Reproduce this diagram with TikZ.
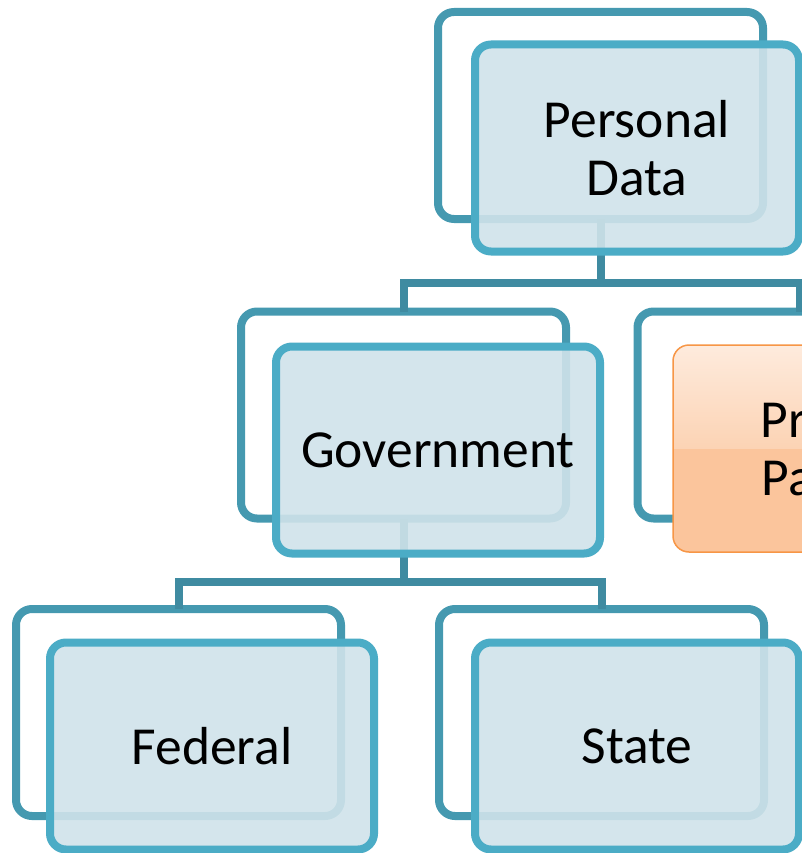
\documentclass[tikz,border=0pt]{standalone}
\usepackage{fontspec}
\setmainfont{Carlito}
\definecolor{backline}{HTML}{4599B0}
\definecolor{frontline}{HTML}{4BACC6}
\definecolor{frontfill}{RGB}{208,227,234}
\definecolor{connline}{HTML}{3F8BA1}
\definecolor{orline}{HTML}{F79646}
\definecolor{ortop}{HTML}{FEEBDD}
\definecolor{ormid}{HTML}{FCD3B4}
\definecolor{orbottom}{HTML}{FBC59C}
\tikzset{
  backbox/.style={draw=backline, line width=8pt, rounded corners=16pt,
    minimum width=325pt, minimum height=207pt, inner sep=0pt, outer sep=0pt},
  frontbox/.style={draw=frontline, line width=8pt, rounded corners=16pt,
    minimum width=324pt, minimum height=207pt, fill=frontfill, fill opacity=0.9,
    text opacity=1, align=center, font=\fontsize{53.5}{58}\selectfont,
    inner sep=0pt, outer sep=0pt},
  orbox/.style={draw=orline, line width=1.5pt, rounded corners=16pt,
    minimum width=326pt, minimum height=207pt, align=center,
    font=\fontsize{53.5}{58}\selectfont, inner sep=0pt, outer sep=0pt,
    path picture={
      \fill[orbottom, sharp corners] (path picture bounding box.west) rectangle (path picture bounding box.south east);
      \shade[top color=ortop, bottom color=ormid, sharp corners] (path picture bounding box.north west) rectangle (path picture bounding box.east);
    }},
  conn/.style={draw=connline, line width=8pt},
}
\begin{document}
\begin{tikzpicture}[x=1pt,y=-1pt]
\useasboundingbox (0,0) rectangle (802,853);
\clip (0,0) rectangle (802,853);
\fill[white] (0,0) rectangle (802,853);
% back frames
\node[backbox] (pdb) at (600.5,115.5) {};
\node[backbox] (govb) at (403.5,415) {};
\node[backbox] (privb) at (800,415) {};
\node[backbox] (fedb) at (178.5,712.5) {};
\node[backbox] (stb) at (601.5,712.5) {};
% connectors
\coordinate (j1) at (600.5,283);
\coordinate (j2) at (403.5,582);
\draw[conn] (pdb.south) -- (j1);
\draw[conn] (j1) -| (govb.north);
\draw[conn] (j1) -| (privb.north);
\draw[conn] (govb.south) -- (j2);
\draw[conn] (j2) -| (fedb.north);
\draw[conn] (j2) -| (stb.north);
% front boxes
\node[frontbox] (pdf) at (637,148) {Personal\\Data};
\node[frontbox] (govf) at (438,450) {Government};
\node[frontbox] (fedf) at (212,746) {Federal};
\node[frontbox] (stf) at (637,746) {State};
\node[orbox] (privf) at (836,448.5) {Private\\Parties};
\end{tikzpicture}
\end{document}
